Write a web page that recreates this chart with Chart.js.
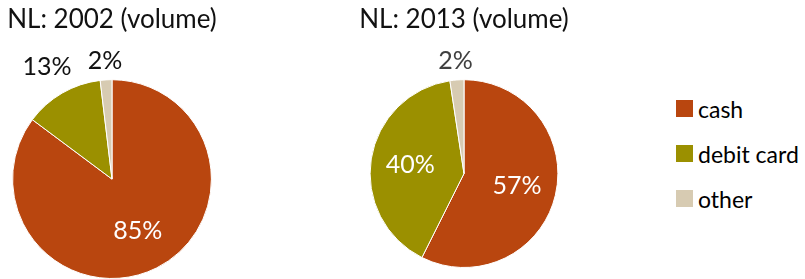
<!DOCTYPE html>
<html>
<head>
<meta charset="utf-8">
<script src="https://cdn.jsdelivr.net/npm/chart.js@4.4.1/dist/chart.umd.min.js"></script>
<style>
    body { margin: 0; background: #fff; width: 805px; height: 279px; overflow: hidden; position: relative; font-family: Lato, sans-serif; }
    canvas { position: absolute; top: 0; }
    #c1 { left: 0; }
    #c2 { left: 344px; }
    #legend { position: absolute; left: 676px; top: 86px; }
    .item { display: flex; align-items: center; height: 45px; font-size: 23px; color: #000; }
    .sw { width: 17px; height: 17px; margin-right: 5px; }
</style>
</head>
<body>
<canvas id="c1" width="224" height="279"></canvas>
<canvas id="c2" width="240" height="279"></canvas>
<div id="legend"></div>
<script>
const categories = ['cash', 'debit card', 'other'];
const colors = ['#B9460F', '#9B9000', '#D7CBB2'];
const values2002 = [85.2, 12.9, 1.9];
const values2013 = [57.4, 40.2, 2.4];
const titles = ['NL: 2002 (volume)', 'NL: 2013 (volume)'];

// percentage labels: big slices inside (white), small ones outside
const pctLabels = {
    id: 'pctLabels',
    afterDatasetsDraw(chart, args, opts) {
        const ctx = chart.ctx;
        const data = chart.data.datasets[0].data;
        const total = data.reduce((a, b) => a + b, 0);
        ctx.save();
        ctx.font = '25px Lato';
        ctx.textAlign = 'center';
        ctx.textBaseline = 'middle';
        chart.getDatasetMeta(0).data.forEach((arc, i) => {
            const pct = Math.round(data[i] / total * 100);
            const txt = pct + '%';
            const mid = (arc.startAngle + arc.endAngle) / 2;
            let dist;
            if (pct < 15) {
                const w = ctx.measureText(txt).width;
                dist = arc.outerRadius + 18 + Math.abs(Math.cos(mid)) * w / 2;
                ctx.fillStyle = opts.outsideColor;
            } else {
                dist = arc.outerRadius * 0.58;
                ctx.fillStyle = '#fff';
            }
            ctx.fillText(txt, arc.x + Math.cos(mid) * dist, arc.y + Math.sin(mid) * dist);
        });
        ctx.restore();
    }
};

function makePie(id, title, values, outsideColor, bottomPad) {
    return new Chart(document.getElementById(id), {
        type: 'pie',
        data: {
            labels: categories,
            datasets: [{
                data: values,
                backgroundColor: colors,
                borderColor: '#fff',
                borderWidth: 1
            }]
        },
        options: {
            responsive: false,
            animation: false,
            layout: { padding: { bottom: bottomPad } },
            plugins: {
                legend: { display: false },
                tooltip: { enabled: false },
                title: {
                    display: true,
                    text: title,
                    color: '#111',
                    font: { family: 'Lato', size: 26, weight: 'normal' },
                    padding: { top: 4, bottom: 44 }
                },
                pctLabels: { outsideColor: outsideColor }
            }
        },
        plugins: [pctLabels]
    });
}

makePie('c1', titles[0], values2002, '#111', 0);
makePie('c2', titles[1], values2013, '#404040', 11);

// legend
const legend = document.getElementById('legend');
categories.forEach((c, i) => {
    const item = document.createElement('div');
    item.className = 'item';
    item.innerHTML = '<span class="sw" style="background:' + colors[i] + '"></span>' + c;
    legend.appendChild(item);
});
</script>
</body>
</html>
